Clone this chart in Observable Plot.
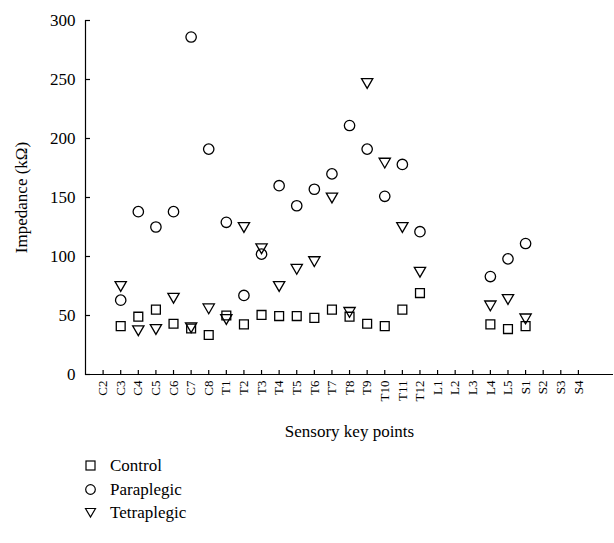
<!DOCTYPE html>
<html><head><meta charset="utf-8">
<script src="https://cdn.jsdelivr.net/npm/d3@7"></script>
<script src="https://cdn.jsdelivr.net/npm/@observablehq/plot@0.6"></script>
<style>
body{margin:0;background:#fff;font-family:"Liberation Serif",serif;color:#000;}
#legend{margin-left:84px;margin-top:9px;font-size:17px;line-height:23.5px;}
#legend div{display:flex;align-items:center;}
#legend svg{margin-right:13px;}
</style></head><body><div id="chart"></div><div id="legend"></div>
<script>
const keyPoints = ["C2","C3","C4","C5","C6","C7","C8","T1","T2","T3","T4","T5","T6","T7","T8","T9","T10","T11","T12","L1","L2","L3","L4","L5","S1","S2","S3","S4"];
const control =     [null,41,49,55,43,39,33.5,50,42.5,50.5,49.5,49.5,48,55,49,43,41,55,69,null,null,null,42.5,38.5,41,null,null,null];
const paraplegic =  [null,63,138,125,138,286,191,129,67,102,160,143,157,170,211,191,151,178,121,null,null,null,83,98,111,null,null,null];
const tetraplegic = [null,76,38.5,39.5,66,41,57,48,126,108,76,90.5,97,151,54,248,180.5,126,88,null,null,null,59.5,65,48.5,null,null,null];
const yTicks = [0,50,100,150,200,250,300];
const seriesNames = ["Control","Paraplegic","Tetraplegic"];

const rows = keyPoints.map((k,i)=>({k, control:control[i], para:paraplegic[i], tetra:tetraplegic[i]}));

const chart = Plot.plot({
  width:614, height:445,
  marginLeft:85, marginRight:1, marginTop:20, marginBottom:71,
  style:{fontFamily:"Liberation Serif, serif", fontSize:"17px", background:"white", color:"black"},
  x:{type:"point", domain:keyPoints, padding:1, insetRight:17.5, round:false},
  y:{domain:[0,300]},
  marks:[
    Plot.frame({anchor:"left", strokeWidth:1.2}),
    Plot.ruleY([0], {strokeWidth:1.2}),
    Plot.axisY({ticks:yTicks, tickSize:5, dx:5, text:null, label:null, strokeWidth:1.2}),
    Plot.axisX({tickSize:4, dy:-4, text:null, label:null, strokeWidth:1.2}),
    Plot.axisY({ticks:yTicks, tickSize:0, tickPadding:10, label:"Impedance (kΩ)", labelAnchor:"center", labelOffset:71, labelArrow:"none"}),
    Plot.axisX({tickSize:0, tickPadding:6, tickRotate:-90, fontSize:13, label:null}),
    Plot.axisX({ticks:[], tickSize:0, label:"Sensory key points", labelAnchor:"center", labelOffset:62, labelArrow:"none"}),
    Plot.dot(rows.filter(d=>d.control!=null), {x:"k", y:"control", symbol:"square", r:5, stroke:"black", strokeWidth:1.3, fill:"white"}),
    Plot.dot(rows.filter(d=>d.para!=null), {x:"k", y:"para", symbol:"circle", r:5.2, stroke:"black", strokeWidth:1.3, fill:"none"}),
    Plot.dot(rows.filter(d=>d.tetra!=null), {x:"k", y:"tetra", symbol:"triangle", r:4.2, rotate:180, stroke:"black", strokeWidth:1.3, fill:"none"})
  ]
});
document.getElementById("chart").append(chart);

const icons = [
  '<rect x="2" y="2" width="9" height="9" fill="none" stroke="black" stroke-width="1.2"/>',
  '<circle cx="6.5" cy="6.5" r="4.8" fill="none" stroke="black" stroke-width="1.2"/>',
  '<path d="M1.5,2.5 L11.5,2.5 L6.5,11 Z" fill="none" stroke="black" stroke-width="1.2"/>'
];
const leg = document.getElementById("legend");
seriesNames.forEach((n,i)=>{
  const div = document.createElement("div");
  div.innerHTML = `<svg width="13" height="13">${icons[i]}</svg><span>${n}</span>`;
  leg.append(div);
});
</script></body></html>
